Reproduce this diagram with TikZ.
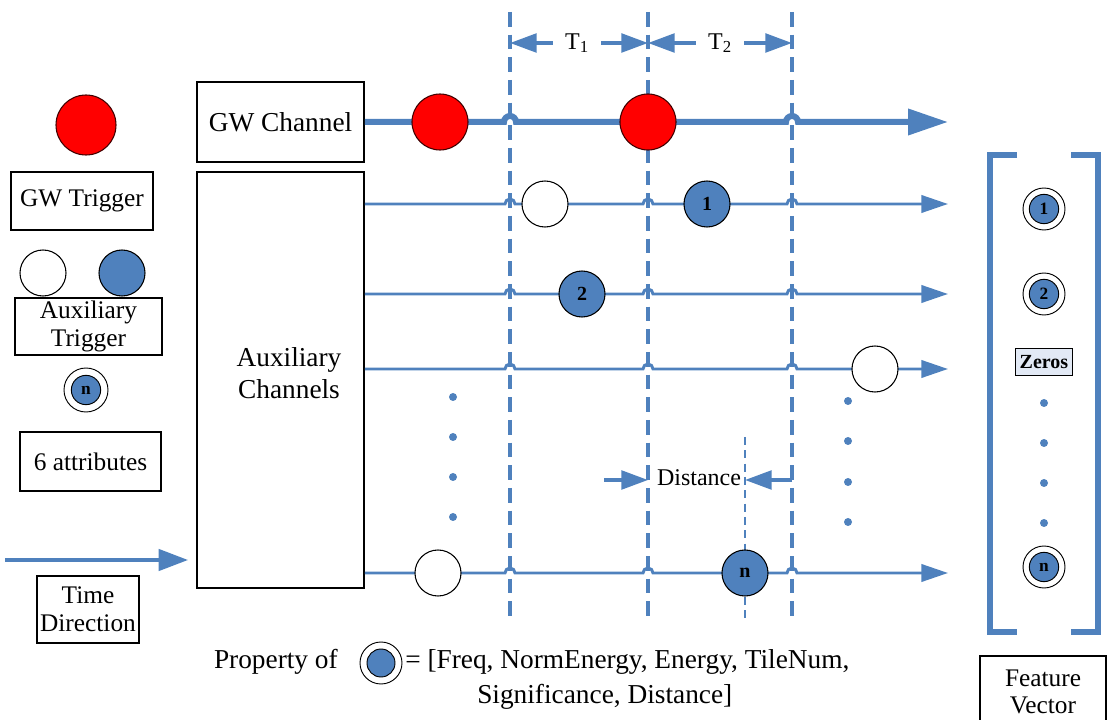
\documentclass[tikz,border=0pt]{standalone}
\usepackage{fontspec}
\setmainfont{Liberation Serif}
\usetikzlibrary{arrows.meta,calc}
\definecolor{chblue}{HTML}{4F81BD}
\definecolor{trigred}{HTML}{FF0000}
\definecolor{zerofill}{HTML}{E2E9F5}
\newcommand\mainsz{\fontsize{20.5}{24}\selectfont}
\newcommand\legsz{\fontsize{19}{20}\selectfont}
\newcommand\smallsz{\fontsize{18}{20}\selectfont}

\begin{document}
\begin{tikzpicture}[x=0.75pt,y=-0.75pt,
  box/.style={draw=black, line width=1.4pt, inner sep=0pt, align=center, font=\mainsz},
  legbox/.style={box, font=\legsz},
  redtrig/.style={circle, fill=trigred, draw=black!75!red, line width=0.8pt, inner sep=0pt, minimum size=42pt},
  wtrig/.style={circle, fill=white, draw=black, line width=0.8pt, inner sep=0pt, minimum size=34.5pt},
  btrig/.style={circle, fill=chblue, draw=black, line width=0.8pt, inner sep=0pt, minimum size=34.5pt,
                font=\bfseries\fontsize{15}{15}\selectfont},
  feat/.style={circle, fill=chblue, draw=black, line width=0.7pt, inner sep=0pt, minimum size=22pt,
               font=\bfseries\fontsize{13}{13}\selectfont},
  ringline/.style={draw=black, line width=0.7pt},
  vdash/.style={draw=chblue, line width=3pt, dash pattern=on 11pt off 6pt},
  thindash/.style={draw=chblue, line width=1.3pt, dash pattern=on 6pt off 4pt},
  gwline/.style={draw=chblue, line width=4.5pt, -{Triangle[length=30pt,width=19pt]}},
  auxline/.style={draw=chblue, line width=2.2pt, -{Triangle[length=20pt,width=13pt]}},
  darrow/.style={draw=chblue, line width=2.6pt, -{Triangle[length=20pt,width=14pt]}},
  dotmark/.style={fill=chblue},
  bracket/.style={draw=chblue, line width=3.8pt},
]
\useasboundingbox (0,0) rectangle (1108,720);

% ---------- time-window guides ----------
\coordinate (d1) at (510,43);
\coordinate (d2) at (648,43);
\coordinate (d3) at (792,43);
\foreach \x in {510,648,792}
  \draw[vdash] (\x,12) -- (\x,622);
\draw[thindash] (745,437) -- (745,622);

% ---------- channel boxes ----------
\node[box, minimum width=125.25pt, minimum height=60pt] (gw) at (280.5,122) {GW Channel};
\node[box, minimum width=125.25pt, minimum height=312pt] (aux) at (280.5,380) {};
\node[font=\fontsize{20.5}{24}\selectfont, align=center] (auxlbl) at (289,373) {Auxiliary\\Channels};

% ---------- GW channel line (hops over the guides) ----------
\coordinate (gwend) at (948,122);
\draw[gwline] (gw.east) -- (504,122) arc[start angle=180,end angle=360,radius=6]
  -- (786,122) arc[start angle=180,end angle=360,radius=6] -- (gwend);

% ---------- auxiliary channel lines ----------
\foreach \y/\n in {204/r1,294/r2,369/r3,573/rn} {
  \coordinate (\n) at (948,\y);
  \draw[auxline] (aux.east |- \n) -- (505,\y) arc[start angle=180,end angle=360,radius=5]
    -- (643,\y) arc[start angle=180,end angle=360,radius=5]
    -- (787,\y) arc[start angle=180,end angle=360,radius=5] -- (\n);
}

% ---------- triggers on the channels ----------
\node[redtrig] (g1) at (440,122) {};
\node[redtrig] (g2) at (648,122) {};
\node[wtrig] (a1w) at (545,204) {};
\node[btrig] (a1b) at (707,204) {1};
\node[btrig] (a2b) at (582,294) {2};
\node[wtrig] (a3w) at (875,369) {};
\node[wtrig] (anw) at (438,573) {};
\node[btrig] (anb) at (745,573) {n};

% ---------- vertical ellipses ----------
\foreach \y in {397,437,477,517} \fill[dotmark] (453,\y) circle[radius=4];
\foreach \y in {401,441,482,522} \fill[dotmark] (848,\y) circle[radius=4];

% ---------- window widths ----------
\node[font=\smallsz, inner sep=9pt] (t1) at (577,43) {T\textsubscript{1}};
\node[font=\smallsz, inner sep=9pt] (t2) at (720,43) {T\textsubscript{2}};
\draw[darrow] (t1.west) -- (d1);
\draw[darrow] (t1.east) -- (d2);
\draw[darrow] (t2.west) -- (d2);
\draw[darrow] (t2.east) -- (d3);

% ---------- distance ----------
\node[font=\smallsz, inner sep=2pt] (dist) at (699,478) {Distance};
\coordinate (ds1) at (604,480);
\coordinate (dt1) at (648,480);
\coordinate (ds2) at (792,480);
\coordinate (dt2) at (745,480);
\draw[darrow] (ds1) -- (dt1);
\draw[darrow] (ds2) -- (dt2);

% ---------- legend ----------
\node[redtrig, minimum size=45pt] (lred) at (86,125) {};
\node[legbox, minimum width=106pt, minimum height=43.5pt] (lgw) at (82,201) {GW Trigger};
\node[wtrig] (lw) at (43,273) {};
\node[btrig] (lb) at (122,273) {};
\node[legbox, minimum width=110.25pt, minimum height=42.75pt, font=\fontsize{19}{20.5}\selectfont] (laux) at (88.5,326.5) {Auxiliary\\Trigger};
\node[feat] (ln) at (86,390) {n};
\draw[ringline] (ln.center) circle[radius=22];
\node[legbox, minimum width=105.75pt, minimum height=44.25pt] (lattr) at (90.5,461.5) {6 attributes};
\coordinate (ts) at (5,560);
\coordinate (te) at (188,560);
\draw[darrow, -{Triangle[length=22pt,width=16pt]}] (ts) -- (te);
\node[legbox, minimum width=76pt, minimum height=50.25pt, font=\fontsize{19}{21}\selectfont] (ltime) at (88,609.5) {Time\\Direction};

% ---------- feature vector ----------
\draw[bracket] (1017,155) -- (990,155) -- (990,632) -- (1017,632);
\draw[bracket] (1071,155) -- (1098,155) -- (1098,632) -- (1071,632);
\node[feat] (v1) at (1044,209) {1};
\draw[ringline] (v1.center) circle[radius=21];
\node[feat] (v2) at (1044,294) {2};
\draw[ringline] (v2.center) circle[radius=21];
\node[draw=black, line width=1pt, fill=zerofill, minimum width=43pt, minimum height=20pt, inner sep=0pt,
      font=\bfseries\fontsize{15}{15}\selectfont] (zeros) at (1044,362) {Zeros};
\foreach \y in {403,443,483,523} \fill[dotmark] (1044,\y) circle[radius=4];
\node[feat] (vn) at (1044,567) {n};
\draw[ringline] (vn.center) circle[radius=21];
\node[box, minimum width=94.5pt, minimum height=54pt, font=\fontsize{19}{20.5}\selectfont, anchor=north] (fv) at (1043,655) {Feature\\Vector};

% ---------- property line ----------
\node[font=\mainsz, anchor=east, inner sep=0pt] (prop) at (338,662) {Property of};
\node[feat, minimum size=21pt] (pc) at (381,663) {};
\draw[ringline] (pc.center) circle[radius=21];
\node[font=\mainsz, anchor=west, inner sep=0pt] (pl1) at (405,662) {= [Freq, NormEnergy, Energy, TileNum,};
\node[font=\mainsz, anchor=west, inner sep=0pt] (pl2) at (477,697) {Significance, Distance]};
\end{tikzpicture}
\end{document}
